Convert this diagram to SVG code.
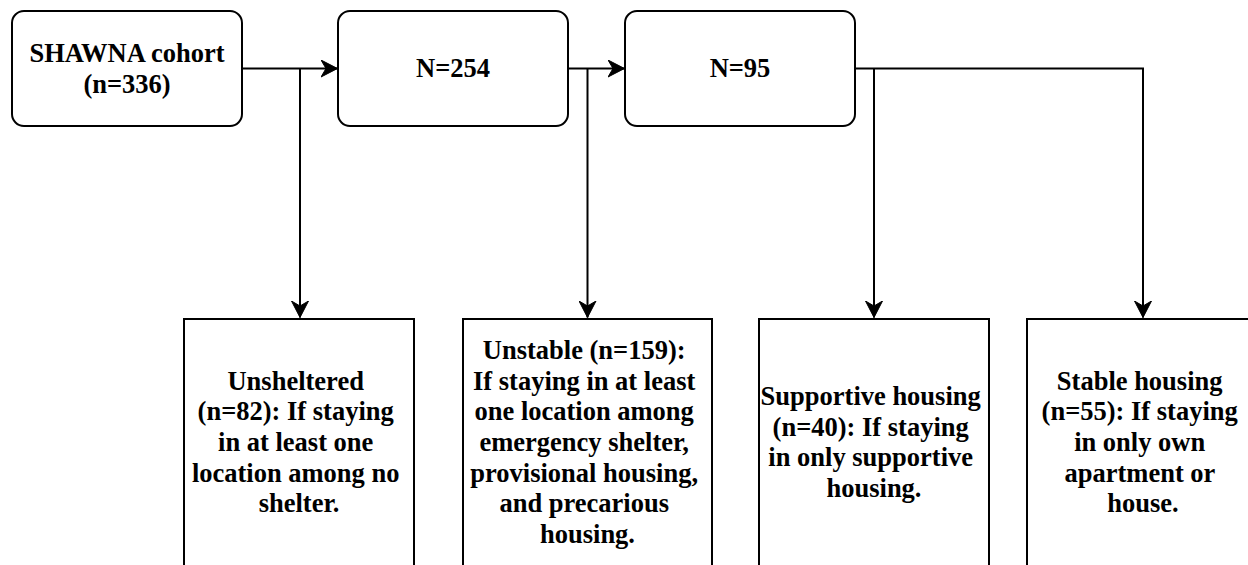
<svg xmlns="http://www.w3.org/2000/svg" width="1248" height="565" viewBox="0 0 1248 565">
<style>
.box{fill:#fff;stroke:#000;stroke-width:2}
.t{font-family:'Liberation Serif','DejaVu Serif',serif;font-weight:bold;font-size:26.5px;fill:#000;text-anchor:middle}
.c{fill:none;stroke:#000;stroke-width:2}
</style>
<defs>
<marker id="arr" markerUnits="userSpaceOnUse" viewBox="-17 -9 18 18" refX="0" refY="0" markerWidth="18" markerHeight="18" orient="auto">
<path d="M0,0 L-16.5,-8.5 L-11.5,0 L-16.5,8.5 Z" fill="#000" stroke="#000" stroke-width="1" stroke-linejoin="miter"/>
</marker>
</defs>
<rect width="1248" height="565" fill="#fff"/>
<g id="connectors">
<path class="c" d="M243,68.5 H337.5" marker-end="url(#arr)"/>
<path class="c" d="M300,68.5 V317.5" marker-end="url(#arr)"/>
<path class="c" d="M569,68.5 H624.5" marker-end="url(#arr)"/>
<path class="c" d="M587.5,68.5 V317.5" marker-end="url(#arr)"/>
<path class="c" d="M856,68.5 H1143 V317.5" marker-end="url(#arr)"/>
<path class="c" d="M874,68.5 V317.5" marker-end="url(#arr)"/>
</g>
<g id="cohort">
<rect class="box" x="12" y="11" width="230" height="115" rx="12" ry="12"/>
<text class="t" font-family="Liberation Serif, DejaVu Serif, serif" x="127" y="62">SHAWNA cohort</text>
<text class="t" font-family="Liberation Serif, DejaVu Serif, serif" x="127" y="92.6">(n=336)</text>
</g>
<g id="n254">
<rect class="box" x="338" y="11" width="230" height="115" rx="12" ry="12"/>
<text class="t" x="453" y="77.3">N=254</text>
</g>
<g id="n95">
<rect class="box" x="625" y="11" width="230" height="115" rx="12" ry="12"/>
<text class="t" x="740" y="77.3">N=95</text>
</g>
<g id="unsheltered">
<rect class="box" x="184" y="319" width="230" height="260"/>
<text class="t" x="299">
<tspan x="299" y="389.8">Unsheltered</tspan>
<tspan x="299" y="420.4">(n=82): If staying</tspan>
<tspan x="299" y="451">in at least one</tspan>
<tspan x="299" y="481.6">location among no</tspan>
<tspan x="299" y="512.2">shelter.</tspan>
</text>
</g>
<g id="unstable">
<rect class="box" x="463" y="319" width="249" height="260"/>
<text class="t" x="587.5">
<tspan x="587.5" y="359.2">Unstable (n=159):</tspan>
<tspan x="587.5" y="389.8">If staying in at least</tspan>
<tspan x="587.5" y="420.4">one location among</tspan>
<tspan x="587.5" y="451">emergency shelter,</tspan>
<tspan x="587.5" y="481.6">provisional housing,</tspan>
<tspan x="587.5" y="512.2">and precarious</tspan>
<tspan x="587.5" y="542.8">housing.</tspan>
</text>
</g>
<g id="supportive">
<rect class="box" x="759" y="319" width="230" height="260"/>
<text class="t" x="874">
<tspan x="874" y="405.1">Supportive housing</tspan>
<tspan x="874" y="435.7">(n=40): If staying</tspan>
<tspan x="874" y="466.3">in only supportive</tspan>
<tspan x="874" y="496.9">housing.</tspan>
</text>
</g>
<g id="stable">
<rect class="box" x="1027" y="319" width="232" height="260"/>
<text class="t" x="1143">
<tspan x="1143" y="389.8">Stable housing</tspan>
<tspan x="1143" y="420.4">(n=55): If staying</tspan>
<tspan x="1143" y="451">in only own</tspan>
<tspan x="1143" y="481.6">apartment or</tspan>
<tspan x="1143" y="512.2">house.</tspan>
</text>
</g>
</svg>
